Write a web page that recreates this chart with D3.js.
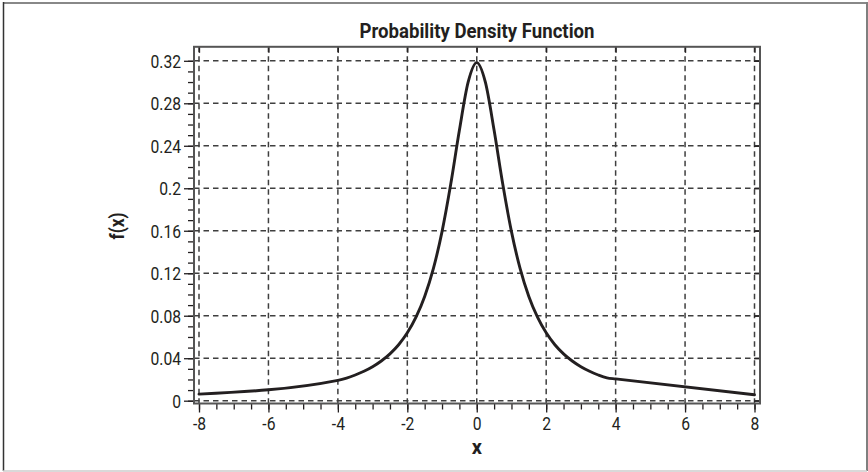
<!DOCTYPE html>
<html>
<head>
<meta charset="utf-8">
<script src="https://cdn.jsdelivr.net/npm/d3@7"></script>
<style>
  html, body { margin: 0; padding: 0; background: #fff; }
  svg { display: block; }
  text { font-family: Roboto, "Liberation Sans", sans-serif; fill: #231f20; }
</style>
</head>
<body>
<svg id="chart" width="868" height="472"></svg>
<script>
// Density curve samples: x positions and f(x)
const xValues = [-8, -4, -3.75, -3.5, -3.25, -3, -2.75, -2.5, -2.25, -2, -1.75, -1.5, -1.25, -1,
  -0.75, -0.5, -0.25, 0, 0.25, 0.5, 0.75, 1, 1.25, 1.5, 1.75, 2, 2.25, 2.5, 2.75, 3, 3.25,
  3.5, 3.75, 4, 8];
const fValues = [0.0062, 0.0192, 0.0213, 0.0242, 0.0277, 0.0320, 0.0374, 0.0441, 0.0527, 0.0639,
  0.0786, 0.0981, 0.1243, 0.1592, 0.2037, 0.2546, 0.2996, 0.3183, 0.2996, 0.2546, 0.2037,
  0.1592, 0.1243, 0.0981, 0.0786, 0.0639, 0.0527, 0.0441, 0.0374, 0.0320, 0.0277, 0.0242,
  0.0215, 0.0205, 0.0056];

const xTicks = [-8, -6, -4, -2, 0, 2, 4, 6, 8];
const xTickLabels = ["-8", "-6", "-4", "-2", "0", "2", "4", "6", "8"];
const yTicks = [0, 0.04, 0.08, 0.12, 0.16, 0.2, 0.24, 0.28, 0.32];
const yTickLabels = ["0", "0.04", "0.08", "0.12", "0.16", "0.2", "0.24", "0.28", "0.32"];
const xMinorTicks = d3.range(-8, 8.001, 0.5);
const yMinorTicks = d3.range(0, 0.3201, 0.01);

const title = "Probability Density Function";
const xLabel = "x";
const yLabel = "f(x)";

const svg = d3.select("#chart");
const ink = "#231f20";
const gridColor = "#3f3f3f";

const x = d3.scaleLinear().domain([-8, 8]).range([199, 754.5]);
const y = d3.scaleLinear().domain([0, 0.32]).range([400.7, 60.8]);

// plot frame extends a little past the data range
const frame = { left: x(-8) - 5, right: x(8) + 5.5, top: y(0.32) - 14, bottom: y(0) + 2.8 };

// condensed look: squeeze rendered text horizontally
function condense(sel, k) {
  sel.each(function () {
    const w = this.getComputedTextLength();
    d3.select(this).attr("textLength", w * k).attr("lengthAdjust", "spacingAndGlyphs");
  });
}

// page border
svg.append("line").attr("x1", 3).attr("x2", 866).attr("y1", 3).attr("y2", 3)
  .attr("stroke", "#888").attr("stroke-width", 2);
svg.append("line").attr("x1", 3.5).attr("x2", 3.5).attr("y1", 2).attr("y2", 471)
  .attr("stroke", "#333").attr("stroke-width", 1.5);
svg.append("line").attr("x1", 867).attr("x2", 867).attr("y1", 2).attr("y2", 471)
  .attr("stroke", "#555").attr("stroke-width", 1.5);
svg.append("line").attr("x1", 3).attr("x2", 867).attr("y1", 471).attr("y2", 471)
  .attr("stroke", "#ccc").attr("stroke-width", 1.5);

// dashed grid
const grid = svg.append("g").attr("stroke", gridColor).attr("stroke-width", 1.5)
  .attr("stroke-dasharray", "5.5,4");
grid.selectAll("line.h").data(yTicks).join("line").attr("class", "h")
  .attr("x1", frame.left).attr("x2", frame.right)
  .attr("y1", d => y(d)).attr("y2", d => y(d));
grid.selectAll("line.v").data(xTicks).join("line").attr("class", "v")
  .attr("x1", d => x(d)).attr("x2", d => x(d))
  .attr("y1", frame.top).attr("y2", frame.bottom);

// axes: outward ticks on the left and bottom
const axisLeft = svg.append("g").attr("transform", `translate(${frame.left},0)`)
  .call(d3.axisLeft(y).tickValues(yTicks).tickSize(10).tickPadding(3)
    .tickFormat((d, i) => yTickLabels[i]));
const axisBottom = svg.append("g").attr("transform", `translate(0,${frame.bottom})`)
  .call(d3.axisBottom(x).tickValues(xTicks).tickSize(9).tickPadding(5)
    .tickFormat((d, i) => xTickLabels[i]));
svg.append("g").attr("transform", `translate(${frame.left},0)`)
  .call(d3.axisLeft(y).tickValues(yMinorTicks).tickSize(6).tickFormat(""));
svg.append("g").attr("transform", `translate(0,${frame.bottom})`)
  .call(d3.axisBottom(x).tickValues(xMinorTicks).tickSize(6).tickFormat(""));
// inward ticks on the top and right edges
svg.append("g").attr("transform", `translate(${frame.right},0)`)
  .call(d3.axisRight(y).tickValues(yTicks).tickSize(-6).tickFormat(""));
svg.append("g").attr("transform", `translate(0,${frame.top})`)
  .call(d3.axisTop(x).tickValues(xTicks).tickSize(-6).tickFormat(""));

svg.selectAll(".domain").remove();
svg.selectAll(".tick line").attr("stroke", ink).attr("stroke-width", 1.3);
svg.selectAll(".tick text").attr("font-size", 18).attr("fill", ink)
  .style("font-family", "Roboto, sans-serif").call(condense, 0.87);
axisLeft.selectAll(".tick text").attr("dy", "0.36em");

// frame
svg.append("rect").attr("x", frame.left).attr("y", frame.top)
  .attr("width", frame.right - frame.left).attr("height", frame.bottom - frame.top)
  .attr("fill", "none").attr("stroke", "#555").attr("stroke-width", 2);

// density curve
const pts = xValues.map((v, i) => [v, fValues[i]]);
svg.append("path").datum(pts)
  .attr("fill", "none").attr("stroke", ink).attr("stroke-width", 2.9)
  .attr("stroke-linejoin", "round").attr("stroke-linecap", "round")
  .attr("d", d3.line().x(d => x(d[0])).y(d => y(d[1])).curve(d3.curveMonotoneX));

// title and axis labels
svg.append("text").attr("x", 477).attr("y", 37.5).attr("text-anchor", "middle")
  .attr("font-size", 20.5).attr("font-weight", "bold").text(title)
  .attr("textLength", 235).attr("lengthAdjust", "spacingAndGlyphs");
svg.append("text").attr("x", x(0)).attr("y", 453.5).attr("text-anchor", "middle")
  .attr("font-size", 20).attr("font-weight", "bold").text(xLabel);
svg.append("text").attr("transform", "translate(124,226) rotate(-90)")
  .attr("text-anchor", "middle").attr("font-size", 20).attr("font-weight", "bold")
  .text(yLabel).call(condense, 0.86);
</script>
</body>
</html>
